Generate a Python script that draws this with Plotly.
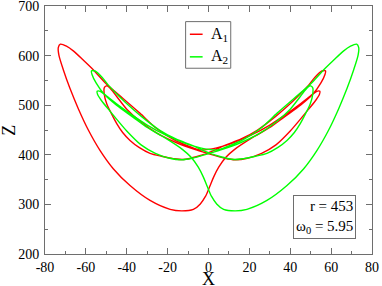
import plotly.graph_objects as go

# Red orbit A1 (X, Z), in drawing order (closed)
a1_x = [-72.5, -73.5, -73.2, -71.0, -67.8, -63.7, -58.8, -53.1, -46.6, -38.4, -28.6, -18.8,
        -13.0, -7.4, -4.0, -1.5, 0.5, 2.5, 5.0, 8.5, 12.5, 22.0, 30.0, 37.0, 45.0, 51.0, 55.0,
        57.0, 57.3, 55.5, 52.0, 48.9, 45.0, 41.0, 33.0, 24.0, 16.0, 8.0, 1.0, -6.0, -12.3,
        -17.2, -23.0, -28.6, -34.0, -38.4, -42.0, -44.9, -47.5, -49.8, -51.0, -51.0, -50.0,
        -48.5, -45.0, -40.0, -33.0, -25.0, -15.0, -6.0, 2.0, 8.0, 13.0, 19.0, 26.0, 33.0,
        40.0, 45.0, 49.0, 52.5, 54.3, 54.5, 53.0, 50.0, 45.0, 38.0, 30.0, 21.0, 12.0, 4.0,
        -4.2, -9.1, -17.2, -25.4, -33.6, -41.7, -49.8, -56.4, -61.3, -66.0, -69.5, -72.5]
a1_z = [623, 616, 601, 571, 534, 493, 450, 409, 372, 338, 308, 290,
        287, 290, 301, 316, 335, 355, 375, 395, 410, 436, 455, 476, 500, 522, 545,
        562, 569, 569, 556, 540, 523, 507, 478, 450, 432, 419, 406, 396, 390.5,
        392.3, 397, 403, 415, 429, 445, 463, 483, 503, 522, 535, 539,
        536, 518, 492, 466, 443, 423, 410, 400, 393, 390, 393, 403, 420,
        448, 472, 492, 510, 522, 528, 528, 519, 503, 482, 460, 440, 424, 414,
        410, 416.5, 431, 453, 484, 513, 542, 571.5, 591, 609, 619, 623]

# Green orbit A2 (X, Z), in drawing order (closed)
a2_x = [72.5, 73.5, 73.2, 71.0, 67.8, 63.7, 58.8, 53.1, 46.6, 38.4, 28.6, 18.8,
        13.0, 7.4, 4.0, 1.5, -0.5, -2.5, -5.0, -8.5, -12.5, -22.0, -30.0, -37.0, -45.0, -51.0, -55.0,
        -57.0, -57.3, -55.5, -52.0, -48.9, -45.0, -41.0, -33.0, -24.0, -16.0, -8.0, -1.0, 6.0, 12.3,
        17.2, 23.0, 28.6, 34.0, 38.4, 42.0, 44.9, 47.5, 49.8, 51.0, 51.0, 50.0,
        48.5, 45.0, 40.0, 33.0, 25.0, 15.0, 6.0, -2.0, -8.0, -13.0, -19.0, -26.0, -33.0,
        -40.0, -45.0, -49.0, -52.5, -54.3, -54.5, -53.0, -50.0, -45.0, -38.0, -30.0, -21.0, -12.0, -4.0,
        4.2, 9.1, 17.2, 25.4, 33.6, 41.7, 49.8, 56.4, 61.3, 66.0, 69.5, 72.5]
a2_z = [623, 616, 601, 571, 534, 493, 450, 409, 372, 338, 308, 290,
        287, 290, 301, 316, 335, 355, 375, 395, 410, 436, 455, 476, 500, 522, 545,
        562, 569, 569, 556, 540, 523, 507, 478, 450, 432, 419, 406, 396, 390.5,
        392.3, 397, 403, 415, 429, 445, 463, 483, 503, 522, 535, 539,
        536, 518, 492, 466, 443, 423, 410, 400, 393, 390, 393, 403, 420,
        448, 472, 492, 510, 522, 528, 528, 519, 503, 482, 460, 440, 424, 414,
        410, 416.5, 431, 453, 484, 513, 542, 571.5, 591, 609, 619, 623]

x_ticks = [-80, -60, -40, -20, 0, 20, 40, 60, 80]
z_ticks = [200, 300, 400, 500, 600, 700]

FONT = "Liberation Serif"
AX = "#6e6e6e"

fig = go.Figure()
fig.add_trace(go.Scatter(x=a1_x, y=a1_z, mode="lines", name="A<sub>1</sub>",
                         line=dict(color="#ff0000", width=1.4, shape="spline", smoothing=0.8),
                         showlegend=False))
fig.add_trace(go.Scatter(x=a2_x, y=a2_z, mode="lines", name="A<sub>2</sub>",
                         line=dict(color="#00ff00", width=1.4, shape="spline", smoothing=0.8),
                         showlegend=False))

axis_common = dict(showgrid=False, zeroline=False, showline=True, linecolor=AX, linewidth=1,
                   mirror="allticks", ticks="inside", ticklen=6, tickcolor=AX, tickwidth=1,
                   automargin=False, ticklabeloverflow="allow",
                   tickfont=dict(family=FONT, size=14, color="black"))
fig.update_xaxes(range=[-80, 80], tickvals=x_ticks, ticktext=[str(v) for v in x_ticks],
                 minor=dict(dtick=10, ticks="inside", ticklen=3, tickcolor=AX),
                 ticklabelstandoff=0,
                 **axis_common)
fig.update_yaxes(range=[200, 700], tickvals=z_ticks, ticktext=[str(v) for v in z_ticks],
                 minor=dict(dtick=50, ticks="inside", ticklen=3, tickcolor=AX),
                 ticklabelstandoff=2,
                 **axis_common)

# Legend drawn as box + samples + labels (paper coordinates)
shapes = [
    dict(type="rect", xref="paper", yref="paper", x0=0.43, x1=0.568, y0=0.749, y1=0.937,
         line=dict(color=AX, width=1), fillcolor="white", layer="above"),
    dict(type="line", xref="paper", yref="paper", x0=0.443, x1=0.482, y0=0.886, y1=0.886,
         line=dict(color="#ff0000", width=1.5), layer="above"),
    dict(type="line", xref="paper", yref="paper", x0=0.443, x1=0.482, y0=0.795, y1=0.795,
         line=dict(color="#00ff00", width=1.5), layer="above"),
]
annotations = [
    dict(xref="paper", yref="paper", x=0.503, y=0.886, xanchor="left", yanchor="middle",
         text="A<sub>1</sub>", showarrow=False, font=dict(family=FONT, size=16, color="black")),
    dict(xref="paper", yref="paper", x=0.503, y=0.795, xanchor="left", yanchor="middle",
         text="A<sub>2</sub>", showarrow=False, font=dict(family=FONT, size=16, color="black")),
    dict(xref="paper", yref="paper", x=0.952, y=0.059, xanchor="right", yanchor="bottom",
         text="r = 453<br>ω<sub>0</sub> = 5.95", align="right", showarrow=False,
         bordercolor=AX, borderwidth=1, borderpad=2, bgcolor="white",
         font=dict(family=FONT, size=15, color="black")),
    # axis titles
    dict(xref="paper", yref="paper", x=0.5, y=-0.1, xanchor="center", yanchor="middle",
         text="X", showarrow=False, font=dict(family=FONT, size=18, color="black")),
    dict(xref="paper", yref="paper", x=-0.111, y=0.5, xanchor="center", yanchor="middle",
         text="Z", textangle=-90, showarrow=False, font=dict(family=FONT, size=18, color="black")),
]

fig.update_layout(template="none", width=382, height=286,
                  margin=dict(l=45, r=10, t=6, b=32, autoexpand=False),
                  font=dict(family=FONT, color="black"),
                  plot_bgcolor="white", paper_bgcolor="white",
                  shapes=shapes, annotations=annotations)

fig.write_html("out.html", config={"displayModeBar": False},
               post_script="document.body.style.margin='0';document.body.style.overflow='hidden';")
